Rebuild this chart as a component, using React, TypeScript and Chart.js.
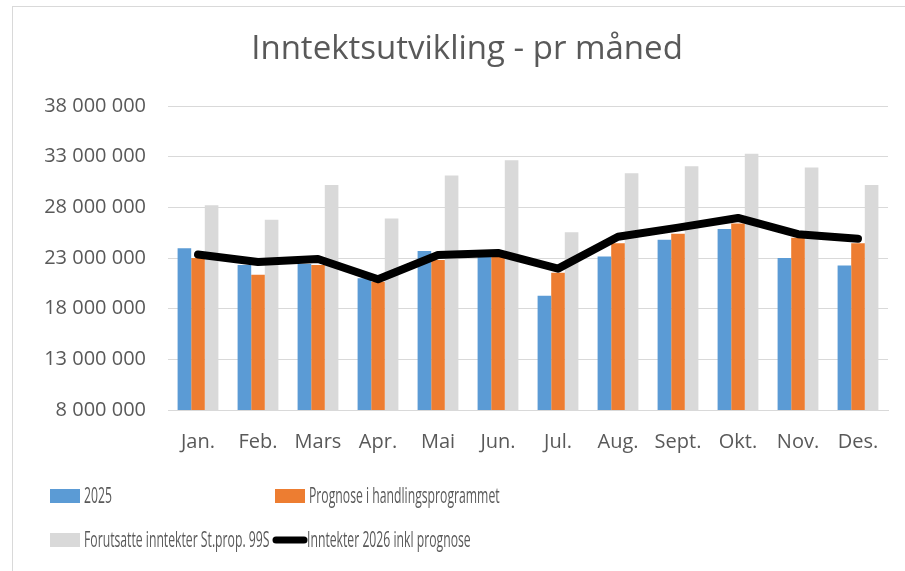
import React, { useEffect, useRef } from "react";
import { Chart, registerables } from "chart.js";

Chart.register(...registerables);

const categories = ["Jan.", "Feb.", "Mars", "Apr.", "Mai", "Jun.", "Jul.", "Aug.", "Sept.", "Okt.", "Nov.", "Des."];
const series2025 = [23950000, 22300000, 22400000, 21000000, 23700000, 23200000, 19270000, 23150000, 24800000, 25850000, 23000000, 22270000];
const seriesPrognose = [23000000, 21350000, 22300000, 20650000, 22800000, 23300000, 21550000, 24450000, 25400000, 26400000, 25000000, 24450000];
const seriesForutsatte = [28200000, 26770000, 30200000, 26900000, 31150000, 32650000, 25550000, 31370000, 32060000, 33300000, 31930000, 30200000];
const seriesInntekter2026 = [23350000, 22600000, 22900000, 20900000, 23300000, 23500000, 21950000, 25100000, 26000000, 26950000, 25350000, 24900000];
const labels = ["2025", "Prognose i handlingsprogrammet", "Forutsatte inntekter St.prop. 99S", "Inntekter 2026 inkl prognose"];
const title = "Inntektsutvikling - pr måned";
const yMin = 8000000;
const yMax = 38000000;
const yStep = 5000000;

const FONT = "'Open Sans', 'DejaVu Sans', sans-serif";
const TEXT = "#595959";

function fmt(v: number): string {
  return String(Math.round(v)).replace(/\B(?=(\d{3})+(?!\d))/g, " ");
}

const overlayPlugin = {
  id: "overlay",
  afterDraw(chart: any) {
    const ctx = chart.ctx as CanvasRenderingContext2D;
    ctx.save();
    // title
    ctx.fillStyle = TEXT;
    ctx.font = `33px ${FONT}`;
    ctx.textAlign = "center";
    ctx.textBaseline = "middle";
    ctx.fillText(title, 467, 50);
    // legend
    const ds = chart.data.datasets;
    const items = [
      { x: 50, y: 496, i: 0 },
      { x: 275, y: 496, i: 1 },
      { x: 50, y: 540, i: 2 },
      { x: 273, y: 540, i: 3 },
    ];
    ctx.textAlign = "left";
    ctx.textBaseline = "middle";
    for (const it of items) {
      const d = ds[it.i];
      if (d.type === "line") {
        ctx.strokeStyle = d.borderColor;
        ctx.lineWidth = 7;
        ctx.lineCap = "round";
        ctx.beginPath();
        ctx.moveTo(it.x + 3, it.y);
        ctx.lineTo(it.x + 31, it.y);
        ctx.stroke();
      } else {
        ctx.fillStyle = d.backgroundColor;
        ctx.fillRect(it.x, it.y - 7, 30, 14);
      }
      ctx.save();
      ctx.fillStyle = TEXT;
      ctx.font = `22px ${FONT}`;
      const tx = it.x + 34;
      ctx.translate(tx, it.y + 1);
      ctx.scale(0.555, 1);
      ctx.fillText(d.label, 0, 0);
      ctx.restore();
    }
    ctx.restore();
  },
};

export default function App() {
  const ref = useRef<HTMLCanvasElement | null>(null);
  useEffect(() => {
    if (!ref.current) return;
    const chart = new Chart(ref.current, {
      type: "bar",
      data: {
        labels: categories,
        datasets: [
          { type: "bar", label: labels[0], data: series2025, backgroundColor: "#5B9BD5", order: 1 },
          { type: "bar", label: labels[1], data: seriesPrognose, backgroundColor: "#ED7D31", order: 1 },
          { type: "bar", label: labels[2], data: seriesForutsatte, backgroundColor: "#D9D9D9", order: 1 },
          {
            type: "line",
            label: labels[3],
            data: seriesInntekter2026,
            borderColor: "#000000",
            backgroundColor: "#000000",
            borderWidth: 8,
            borderCapStyle: "round",
            borderJoinStyle: "round",
            pointRadius: 0,
            tension: 0,
            order: 0,
          },
        ] as any,
      },
      options: {
        animation: false,
        responsive: false,
        maintainAspectRatio: false,
        datasets: { bar: { categoryPercentage: 0.68, barPercentage: 1 } } as any,
        layout: { padding: { left: 0, right: 17, top: 106, bottom: 0 } },
        plugins: { legend: { display: false }, title: { display: false }, tooltip: { enabled: false } },
        scales: {
          x: {
            grid: { display: false, drawTicks: false },
            border: { display: true, color: "#D9D9D9", width: 1 },
            ticks: { color: TEXT, font: { family: FONT, size: 20 }, padding: 20, maxRotation: 0, autoSkip: false },
            afterFit: (s: any) => { s.height = 161; },
          },
          y: {
            min: yMin,
            max: yMax,
            grid: { color: "#D9D9D9", lineWidth: 1, drawTicks: false },
            border: { display: false },
            ticks: {
              stepSize: yStep,
              color: TEXT,
              font: { family: FONT, size: 20 },
              padding: 22,
              callback: (v: any) => fmt(Number(v)),
            },
            afterFit: (s: any) => { s.width = 168; },
          },
        },
      },
      plugins: [overlayPlugin],
    });
    return () => chart.destroy();
  }, []);
  return (
    <div style={{ position: "fixed", left: 0, top: 0, width: 905, height: 571, background: "#fff", overflow: "hidden" }}>
      <div style={{ position: "absolute", left: 12, top: 6, width: 1000, height: 700, borderLeft: "1px solid #D9D9D9", borderTop: "1px solid #D9D9D9" }} />
      <canvas ref={ref} width={905} height={571} style={{ position: "absolute", left: 0, top: 0, width: 905, height: 571 }} />
    </div>
  );
}
